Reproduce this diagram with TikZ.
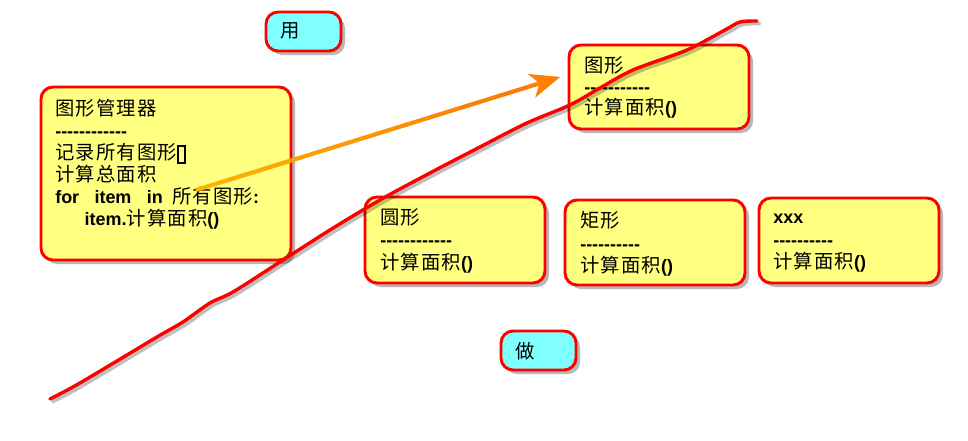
\documentclass[tikz,border=0pt]{standalone}
\usepackage{fontspec}
\setmainfont{Noto Sans CJK SC}[LetterSpace=6]
\newfontfamily\arialfont{Liberation Sans}[Scale=0.93]
\usepackage{tikz}
\usetikzlibrary{arrows.meta,calc,positioning,shadows}
\definecolor{cardyellow}{HTML}{FFFF80}
\definecolor{cardcyan}{HTML}{80FFFF}
\definecolor{cardred}{HTML}{FF0000}
\definecolor{arroworange}{HTML}{FF8000}
\newcommand\ab[1]{{\arialfont\bfseries #1}}
\newcommand\dashline[1]{{\arialfont\bfseries\foreach \k in {1,...,#1}{-\kern0pt}}}
\newcommand\missing{{\setlength\fboxrule{1.6pt}\setlength\fboxsep{0pt}\fbox{\rule{3.5pt}{0pt}\rule[-1.5pt]{0pt}{11pt}}}}
\tikzset{
  card/.style={rounded corners=9pt, draw=cardred, line width=2.2pt, fill=cardyellow,
    drop shadow={shadow xshift=3pt, shadow yshift=-3pt, opacity=.4, fill=black!70}},
  tag/.style={card, fill=cardcyan, minimum width=56.25pt, minimum height=29.25pt},
  cardtxt/.style={anchor=north west, inner sep=0pt, align=left,
    font=\fontsize{14.5}{17}\selectfont},
}

\begin{document}
\begin{tikzpicture}[x=0.75pt,y=-0.75pt]
  \useasboundingbox[fill=white] (0,0) rectangle (968,440);

  % the two tags
  \node[tag] (use) at (303.5,31.5) {};
  \node[cardtxt, anchor=west] (usetxt) at (280,31) {用};
  \node[tag] (do) at (538.5,350.5) {};
  \node[cardtxt, anchor=west] (dotxt) at (515,351) {做};

  % manager
  \node[card, minimum width=187.5pt, minimum height=129.75pt] (mgr) at (166,173.5) {};
  \node[cardtxt, font=\fontsize{14.5}{16.5}\selectfont] (mgrtxt) at (55,99) {
    图形管理器\\
    \dashline{12}\\
    记录所有图形\missing\\
    计算总面积\\
    \ab{for\hspace{0.85em}item\hspace{0.85em}in}\hspace{0.5em}所有图形\ab{:}\\
    \hspace{22pt}\ab{item.}计算面积\ab{()}
  };

  % base shape and the concrete ones
  \node[card, minimum width=135pt, minimum height=63pt] (shape) at (659,87) {};
  \node[cardtxt, font=\fontsize{14.5}{16}\selectfont] (shapetxt) at (584,56)
    {图形\\ \dashline{11}\\ 计算面积\ab{()}};

  \node[card, minimum width=135pt, minimum height=64.5pt] (circ) at (455,240) {};
  \node[cardtxt] (circtxt) at (380,208) {圆形\\ \dashline{12}\\ 计算面积\ab{()}};

  \node[card, minimum width=135pt, minimum height=63.75pt] (rect) at (655,242.5) {};
  \node[cardtxt] (recttxt) at (580,211) {矩形\\ \dashline{10}\\ 计算面积\ab{()}};

  \node[card, minimum width=135pt, minimum height=63.75pt] (other) at (849,240.5) {};
  \node[cardtxt] (othertxt) at (773,208) {\vphantom{图}\ab{xxx}\\ \dashline{10}\\ 计算面积\ab{()}};

  % orange pointer
  \coordinate (tail) at (196,190);
  \coordinate (head) at (560,77);
  \draw[black, opacity=.2, line width=3pt, xshift=2pt, yshift=-2pt,
    -{Stealth[length=22pt,width=18pt,inset=6pt]}] (tail) -- (head);
  \foreach \i in {0,...,9}{
    \pgfmathsetmacro\pct{60+5*\i}
    \draw[arroworange!\pct!yellow, line width=3pt]
      ($(tail)!\i/11!(head)$) -- ($(tail)!\i/11+1/11!(head)$);
  }
  \draw[arroworange, line width=3pt, -{Stealth[length=22pt,width=18pt,inset=6pt]}]
    ($(tail)!10/11!(head)$) -- (head);

  % red scribble
  \draw[black, opacity=.25, line width=2.6pt, line cap=round, xshift=2pt, yshift=-2pt]
    plot[smooth, tension=.5] coordinates {(50,399) (73,387) (107,367) (157,337) (183,322)
      (210,303) (233,292) (280,262) (330,230) (380,200) (430,173) (480,147) (527,123)
      (570,105) (600,88) (633,70) (687,50) (725,30) (740,22) (757,21)};
  \draw[cardred, line width=2.6pt, line cap=round]
    plot[smooth, tension=.5] coordinates {(50,399) (73,387) (107,367) (157,337) (183,322)
      (210,303) (233,292) (280,262) (330,230) (380,200) (430,173) (480,147) (527,123)
      (570,105) (600,88) (633,70) (687,50) (725,30) (740,22) (757,21)};
\end{tikzpicture}
\end{document}
